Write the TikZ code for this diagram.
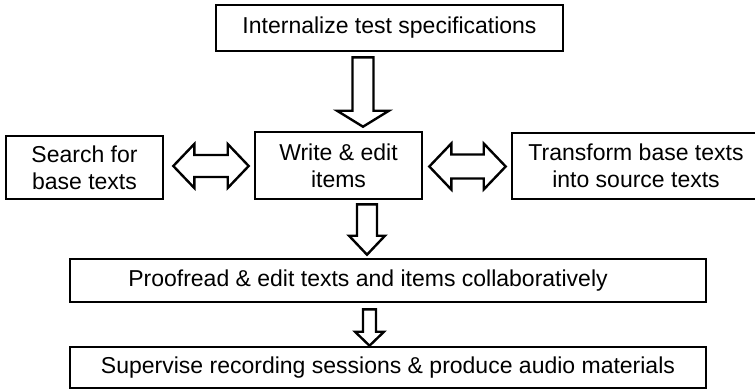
\documentclass[tikz,border=0pt]{standalone}
\usepackage{fontspec}
\setmainfont{Liberation Sans}
\usepackage{tikz}
\usetikzlibrary{calc}

% hollow block arrows: start, end, shaft half width, head half width, head length
\newcommand{\downblock}[5]{%
  \draw[blockarrow] let \p1=(#1), \p2=(#2) in
    (\x1-#3,\y1) -- (\x1+#3,\y1) -- (\x1+#3,\y2+#5) -- (\x1+#4,\y2+#5) -- (\x1,\y2)
    -- (\x1-#4,\y2+#5) -- (\x1-#3,\y2+#5) -- cycle;}
\newcommand{\sideblock}[5]{%
  \draw[blockarrow] let \p1=(#1), \p2=(#2) in
    (\x1,\y1) -- (\x1+#5,\y1+#4) -- (\x1+#5,\y1+#3) -- (\x2-#5,\y1+#3) -- (\x2-#5,\y1+#4)
    -- (\x2,\y1) -- (\x2-#5,\y1-#4) -- (\x2-#5,\y1-#3) -- (\x1+#5,\y1-#3) -- (\x1+#5,\y1-#4) -- cycle;}

\begin{document}
\begin{tikzpicture}[
			x=1pt, y=-1pt,
			box/.style={draw, rectangle, line width=2.6pt, inner sep=0pt, align=center, font=\fontsize{23}{27}\selectfont},
			blockarrow/.style={draw, line width=2.4pt, line join=miter, fill=white}
		]
		\useasboundingbox (0,0) rectangle (755,391);

		% Top step
		\node[box, minimum width=347pt, minimum height=46pt] (spec) at (389.5,28) {Internalize test specifications};

		% Middle row
		\node[box, minimum width=167pt, minimum height=67pt] (write) at (338.5,165.5) {Write \& edit\\items};
		\node[box, minimum width=157pt, minimum height=63pt] (search) at (84.5,167.5) {Search for\\base texts};
		\node[box, minimum width=248pt, minimum height=66pt] (transform) at (636,166) {Transform base texts\\into source texts};

		% Lower steps
		\node[box, minimum width=636pt, minimum height=43pt] (proof) at (388,280.5) {Proofread \& edit texts and items collaboratively\hspace{40pt}};
		\node[box, minimum width=636pt, minimum height=41pt] (record) at (388,367.5) {Supervise recording sessions \& produce audio materials};

		% Down arrows
		\downblock{$(spec.south)+(-26.5,5)$}{$(write.north)+(24.5,-4)$}{10.5pt}{26pt}{16pt}
		\downblock{$(write.south)+(28.5,4)$}{$(proof.north)+(-21,-3)$}{10pt}{18pt}{19pt}
		\downblock{$(proof.south)+(-18.5,6)$}{$(record.north)+(-18.5,0)$}{6.5pt}{14.5pt}{14pt}

		% Side arrows (both ways)
		\sideblock{$(search.east)+(9,-1.5)$}{$(write.west)+(-5,0.5)$}{11pt}{22pt}{21pt}
		\sideblock{$(write.east)+(6,1)$}{$(transform.west)+(-5,0)$}{12pt}{23pt}{22pt}

\end{tikzpicture}
\end{document}
